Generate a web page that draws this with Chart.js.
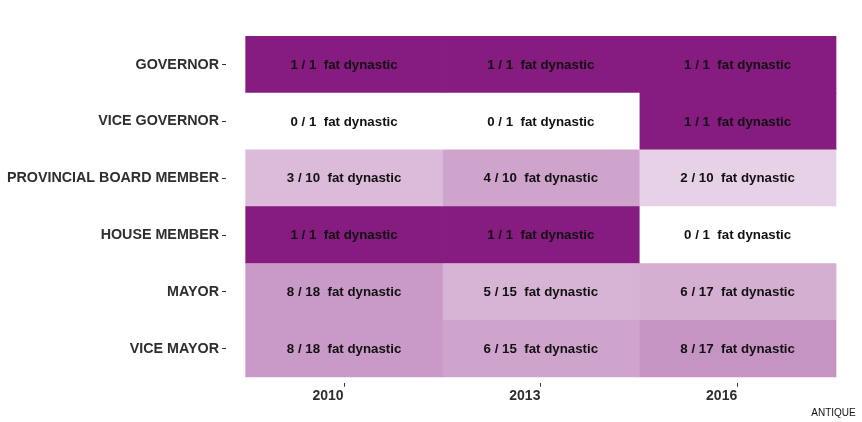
<!DOCTYPE html>
<html lang="en">
<head>
    <meta charset="UTF-8">
    <title>ANTIQUE - fat dynastic</title>
    <script src="https://cdn.jsdelivr.net/npm/chart.js"></script>
    <style>
        body {
            margin: 0;
            padding: 0;
            background-color: #ffffff;
        }
        #wrap {
            width: 862px;
            height: 422px;
            position: relative;
        }
    </style>
</head>
<body>
    <div id="wrap">
        <canvas id="myChart"></canvas>
    </div>

    <script>
        const years = ['2010', '2013', '2016'];
        const positions = ['GOVERNOR', 'VICE GOVERNOR', 'PROVINCIAL BOARD MEMBER', 'HOUSE MEMBER', 'MAYOR', 'VICE MAYOR'];

        // fat dynastic count / total seats, per position (same order as positions)
        const dynastic2010 = [1, 0, 3, 1, 8, 8];
        const total2010    = [1, 1, 10, 1, 18, 18];
        const dynastic2013 = [1, 0, 4, 1, 5, 6];
        const total2013    = [1, 1, 10, 1, 15, 15];
        const dynastic2016 = [1, 1, 2, 0, 6, 8];
        const total2016    = [1, 1, 10, 1, 17, 17];

        const province = 'ANTIQUE';

        const dynastic = [dynastic2010, dynastic2013, dynastic2016];
        const totals = [total2010, total2013, total2016];

        const fontFamily = '"Liberation Sans", Arial, Helvetica, sans-serif';
        const high = [134, 27, 128];

        function shade(ratio) {
            const r = Math.round(255 + (high[0] - 255) * ratio);
            const g = Math.round(255 + (high[1] - 255) * ratio);
            const b = Math.round(255 + (high[2] - 255) * ratio);
            return `rgb(${r}, ${g}, ${b})`;
        }

        const datasets = years.map((year, j) => ({
            label: year,
            data: positions.map((p, i) => ({ x: [j - 0.5, j + 0.5], y: i })),
            backgroundColor: positions.map((p, i) => shade(dynastic[j][i] / totals[j][i])),
            borderWidth: 0,
            borderSkipped: false,
            grouped: false,
            barPercentage: 1,
            categoryPercentage: 1
        }));

        // text inside each tile
        const cellLabels = {
            id: 'cellLabels',
            afterDatasetsDraw(chart) {
                const ctx = chart.ctx;
                ctx.save();
                ctx.font = 'bold 13.3px ' + fontFamily;
                ctx.fillStyle = '#111111';
                ctx.textAlign = 'center';
                ctx.textBaseline = 'middle';
                chart.data.datasets.forEach((ds, j) => {
                    chart.getDatasetMeta(j).data.forEach((el, i) => {
                        const pt = el.getCenterPoint();
                        ctx.fillText(dynastic[j][i] + ' / ' + totals[j][i] + '  fat dynastic', pt.x, pt.y + 0.5);
                    });
                });
                ctx.restore();
            }
        };

        const ctx = document.getElementById('myChart').getContext('2d');
        const myChart = new Chart(ctx, {
            type: 'bar',
            data: { datasets: datasets },
            plugins: [cellLabels],
            options: {
                indexAxis: 'y',
                responsive: true,
                maintainAspectRatio: false,
                animation: false,
                layout: {
                    padding: { top: 30.7, right: 6.3, bottom: 0, left: 0 }
                },
                scales: {
                    x: {
                        type: 'linear',
                        min: -0.6,
                        max: 2.6,
                        offset: false,
                        afterBuildTicks: (axis) => {
                            axis.ticks = years.map((y, j) => ({ value: j }));
                        },
                        ticks: {
                            autoSkip: false,
                            maxRotation: 0,
                            labelOffset: -16,
                            padding: 1,
                            color: '#2e2e2e',
                            font: { family: fontFamily, size: 14, weight: 'bold' },
                            callback: (v) => years[v]
                        },
                        grid: {
                            offset: false,
                            drawOnChartArea: false,
                            drawTicks: true,
                            tickLength: 4,
                            tickColor: '#333333'
                        },
                        border: { display: false }
                    },
                    y: {
                        type: 'linear',
                        min: -0.6,
                        max: 5.6,
                        reverse: true,
                        offset: false,
                        afterBuildTicks: (axis) => {
                            axis.ticks = positions.map((p, i) => ({ value: i }));
                        },
                        afterFit: (axis) => {
                            axis.width = 226;
                        },
                        ticks: {
                            autoSkip: false,
                            padding: 3,
                            color: '#2e2e2e',
                            font: { family: fontFamily, size: 14.3, weight: 'bold' },
                            callback: (v) => positions[v]
                        },
                        grid: {
                            offset: false,
                            drawOnChartArea: false,
                            drawTicks: true,
                            tickLength: 4,
                            tickColor: '#333333'
                        },
                        border: { display: false }
                    }
                },
                plugins: {
                    legend: { display: false },
                    tooltip: { enabled: false },
                    title: {
                        display: true,
                        text: province,
                        position: 'bottom',
                        align: 'end',
                        color: '#111111',
                        font: { family: fontFamily, size: 10, weight: 'normal' },
                        padding: { top: 1.5, bottom: 3 }
                    }
                }
            }
        });
    </script>
</body>
</html>
